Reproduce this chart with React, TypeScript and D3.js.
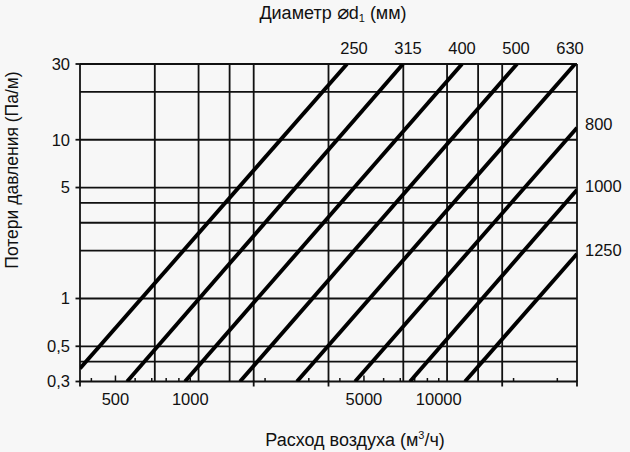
import React from "react";
import * as d3 from "d3";

// ---- data ----
const diameters = [250, 315, 400, 500, 630, 800, 1000, 1250];
// each line: start point and end point (flow m³/h, loss Pa/m)
const flowStart = [360, 557, 952, 1586, 2688, 4605, 7660, 12752];
const lossStart = [0.362, 0.3, 0.3, 0.3, 0.3, 0.3, 0.3, 0.3];
const flowEnd = [4273, 7178, 12407, 20650, 35350, 36000, 36000, 36000];
const lossEnd = [30, 30, 30, 30, 30, 11.9, 4.84, 1.91];

const yTickValues = [0.3, 0.5, 1, 5, 10, 30];
const yTickLabels = ["0,3", "0,5", "1", "5", "10", "30"];
const yGridValues = [0.3, 0.4, 0.5, 1, 2, 3, 4, 5, 10, 20, 30];

const xLabelValues = [500, 1000, 5000, 10000];
const xLabelTexts = ["500", "1000", "5000", "10000"];
const xMinorTicks = [400, 500, 600, 700, 800, 900, 1000, 2000, 3000, 4000, 5000, 6000, 7000, 8000, 9000, 10000, 20000, 30000];
const xTallTicks = [500, 5000];
const xGridValues = [360, 720, 1080, 1440, 1800, 3600, 7200, 10800, 14400, 18000, 36000];
const xMajorTicks = [360, 1800, 3600, 18000, 36000];

const xDomain = [360, 36000];
const yDomain = [0.3, 30];

export default function App() {
  const W = 630, H = 452;
  const L = 80, R = 577, T = 64, B = 381.5;
  const x = d3.scaleLog().domain(xDomain).range([L, R]);
  const y = d3.scaleLog().domain(yDomain).range([B, T]);
  const font = "'Liberation Sans', Arial, Helvetica, sans-serif";
  const ink = "#111";
  const fs = 16.5;

  const topIdx = diameters.map((_, i) => i).filter((i) => lossEnd[i] >= 30);
  const rightIdx = diameters.map((_, i) => i).filter((i) => lossEnd[i] < 30);
  const topPos = d3.scalePoint<number>().domain(topIdx).range([354, 570]);

  const lineGen = d3
    .line<[number, number]>()
    .x((d) => x(d[0]))
    .y((d) => y(d[1]));

  return (
    <svg
      width={W}
      height={H}
      viewBox={`0 0 ${W} ${H}`}
      style={{ position: "absolute", left: 0, top: 0, background: "#f7f7f7" }}
      fontFamily={font}
    >
      <rect x={0} y={0} width={W} height={H} fill="#f7f7f7" />
      <defs>
        <clipPath id="plot">
          <rect x={L} y={T} width={R - L} height={B - T} />
        </clipPath>
      </defs>

      {/* grid */}
      <g stroke={ink} strokeWidth={1.8}>
        {yGridValues.map((v) => (
          <line key={"yg" + v} x1={L} x2={R} y1={y(v)} y2={y(v)} />
        ))}
        {xGridValues.map((v) => (
          <line key={"xg" + v} x1={x(v)} x2={x(v)} y1={T} y2={B} />
        ))}
      </g>

      {/* y ticks */}
      <g stroke={ink} strokeWidth={1.8}>
        {yTickValues.map((v) => (
          <line key={"yt" + v} x1={L - 4.5} x2={L} y1={y(v)} y2={y(v)} />
        ))}
      </g>
      <g fontSize={fs} fill={ink} textAnchor="end">
        {yTickValues.map((v, i) => (
          <text key={"yl" + v} x={70} y={y(v)} dy="0.36em">
            {yTickLabels[i]}
          </text>
        ))}
      </g>

      {/* x ticks */}
      <g stroke={ink} strokeWidth={1.5}>
        {xMinorTicks.map((v) => (
          <line
            key={"xm" + v}
            x1={x(v)}
            x2={x(v)}
            y1={B}
            y2={B - (xTallTicks.includes(v) ? 6 : 3.5)}
          />
        ))}
        {xMajorTicks.map((v) => (
          <line key={"xM" + v} x1={x(v)} x2={x(v)} y1={B - 1} y2={B + 5} strokeWidth={1.8} />
        ))}
      </g>
      <g fontSize={fs} fill={ink} textAnchor="middle">
        {xLabelValues.map((v, i) => (
          <text key={"xl" + v} x={x(v)} y={405}>
            {xLabelTexts[i]}
          </text>
        ))}
      </g>

      {/* diameter lines */}
      <g clipPath="url(#plot)" fill="none" stroke="#000" strokeWidth={3.9}>
        {diameters.map((d, i) => (
          <path
            key={"d" + d}
            d={lineGen([
              [flowStart[i], lossStart[i]],
              [flowEnd[i], lossEnd[i]],
            ]) || ""}
          />
        ))}
      </g>

      {/* diameter labels */}
      <g fontSize={fs} fill={ink}>
        {topIdx.map((i) => (
          <text key={"tl" + i} x={topPos(i)} y={54} textAnchor="middle">
            {diameters[i]}
          </text>
        ))}
        {rightIdx.map((i) => (
          <text key={"rl" + i} x={585} y={y(lossEnd[i]) + 2} textAnchor="start">
            {diameters[i]}
          </text>
        ))}
      </g>

      {/* titles */}
      <text x={333} y={18.5} fontSize={18} fill={ink} textAnchor="middle">
        Диаметр <tspan fontFamily="'DejaVu Sans', sans-serif" fontStyle="italic" fontSize={20}>⌀</tspan>d
        <tspan fontSize={11} dy={3}>1</tspan>
        <tspan dy={-3}> (мм)</tspan>
      </text>
      <text
        transform="translate(18.3,170) rotate(-90)"
        fontSize={17.5}
        fill={ink}
        textAnchor="middle"
      >
        Потери давления (Па/м)
      </text>
      <text x={355} y={446} fontSize={18} fill={ink} textAnchor="middle">
        Расход воздуха (м<tspan fontSize={11} dy={-7}>3</tspan>
        <tspan dy={7}>/ч)</tspan>
      </text>
    </svg>
  );
}
